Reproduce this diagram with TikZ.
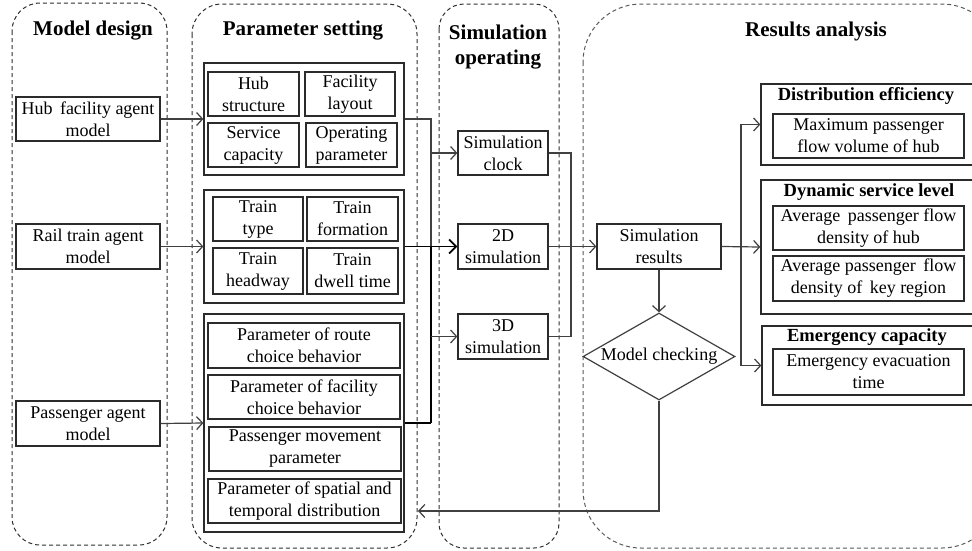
\documentclass[tikz,border=0pt]{standalone}
\usepackage{fontspec}
\setmainfont{Liberation Serif}
\usetikzlibrary{arrows.meta,shapes.geometric}
\definecolor{ln}{HTML}{404040}
\definecolor{bx}{HTML}{2B2B2B}
\definecolor{lanec}{HTML}{303030}
\definecolor{lanelt}{HTML}{5A5A5A}
\begin{document}
\begin{tikzpicture}[x=1pt,y=-1pt,
  txt/.style={font=\fontsize{18}{22}\selectfont, align=center, inner sep=0pt},
  box/.style={txt, draw=bx, line width=1.3pt},
  grp/.style={draw=bx, line width=1.3pt, inner sep=0pt},
  ttl/.style={font=\fontsize{21}{25}\selectfont\bfseries, align=center, inner sep=0pt},
  sttl/.style={font=\fontsize{18.5}{22}\selectfont\bfseries, inner sep=0pt},
  lanebox/.style={draw=lanec, dash pattern=on 4pt off 3pt, line width=1pt},
  conn/.style={draw=ln, line width=1.2pt},
  arr/.style={conn, -{Straight Barb[length=6pt,width=13pt,line width=1.2pt]}},
  thk/.style={draw=black, line width=2pt},
  tarr/.style={draw=black, line width=1.8pt, -{Straight Barb[length=7pt,width=14pt,line width=1.8pt]}}
]
\clip (0,0) rectangle (972,550);
\fill[white] (0,0) rectangle (972,550);

% lanes
\draw[lanebox, rounded corners=28pt] (12,3) rectangle (167,545);
\draw[lanebox, rounded corners=30pt] (192,4) rectangle (417,548);
\draw[lanebox, rounded corners=25pt] (439,4) rectangle (559,548);
\draw[lanebox, draw=lanelt, rounded corners=58pt] (583,4) rectangle (1000,548);

% titles
\node[ttl] (t1) at (93,31) {Model design};
\node[ttl] (t2) at (303,31) {Parameter setting};
\node[ttl] (t3) at (498,47) {Simulation\\operating};
\node[ttl] (t4) at (816,31) {Results analysis};

% model design
\node[box, minimum width=144pt, minimum height=44pt] (hub) at (88,119) {Hub\, facility agent\\model};
\node[box, minimum width=144pt, minimum height=45pt] (rail) at (88,246.5) {Rail train agent\\model};
\node[box, minimum width=144pt, minimum height=45pt] (pass) at (88,423.5) {Passenger agent\\model};

% parameter groups
\node[grp, minimum width=200pt, minimum height=112pt] (g1) at (304,119) {};
\node[box, minimum width=91pt, minimum height=44pt] (hubs) at (253.5,94) {Hub\\structure};
\node[box, minimum width=90pt, minimum height=44pt] (facl) at (350,94) {Facility\\layout};
\node[box, minimum width=91pt, minimum height=44pt] (serv) at (253.5,145) {Service\\capacity};
\node[box, minimum width=91pt, minimum height=44pt] (oper) at (351.5,145) {Operating\\parameter};

\node[grp, minimum width=200pt, minimum height=113pt] (g2) at (304,246.5) {};
\node[box, minimum width=90pt, minimum height=44pt] (ttype) at (258,219) {Train\\type};
\node[box, minimum width=91pt, minimum height=44pt] (tform) at (352.5,219) {Train\\formation};
\node[box, minimum width=90pt, minimum height=46pt] (thead) at (258,271) {Train\\headway};
\node[box, minimum width=91pt, minimum height=46pt] (tdwell) at (352.5,271) {Train\\dwell time};

\node[grp, minimum width=200pt, minimum height=218pt] (g3) at (304,423) {};
\node[box, minimum width=192pt, minimum height=45pt] (route) at (304,345.5) {Parameter of route\\choice behavior};
\node[box, minimum width=192pt, minimum height=44pt] (facch) at (304,397) {Parameter of facility\\choice behavior};
\node[box, minimum width=192pt, minimum height=44pt] (move) at (305,449) {Passenger movement\\parameter};
\node[box, minimum width=193pt, minimum height=44pt] (spat) at (304.5,501) {Parameter of spatial and\\temporal distribution};

% simulation
\node[box, minimum width=90pt, minimum height=44pt] (clock) at (503,153) {Simulation\\clock};
\node[box, minimum width=90pt, minimum height=45pt] (sim2d) at (503,246.5) {2D\\simulation};
\node[box, minimum width=90pt, minimum height=45pt] (sim3d) at (503,336.5) {3D\\simulation};

% results
\node[box, minimum width=124pt, minimum height=45pt] (simres) at (659,246.5) {Simulation\\results};
\node[txt, draw=ln, line width=1.2pt, diamond, aspect=1.75, minimum width=152pt, minimum height=87pt] (chk) at (659,356.5) {Model checking};

\node[grp, minimum width=239pt, minimum height=81pt] (dist) at (880.5,124.5) {};
\node[sttl] (distt) at (866,96) {Distribution efficiency};
\node[box, minimum width=191pt, minimum height=44pt] (maxp) at (868.5,136) {Maximum passenger\\flow volume of hub};

\node[grp, minimum width=239pt, minimum height=134pt] (dyn) at (880.5,247) {};
\node[sttl] (dynt) at (869,192) {Dynamic service level};
\node[box, minimum width=191pt, minimum height=44pt] (avg1) at (868.5,228) {Average\, passenger flow\\density of hub};
\node[box, minimum width=191pt, minimum height=45pt] (avg2) at (868.5,278.5) {Average passenger\, flow\\density of\, key region};

\node[grp, minimum width=238pt, minimum height=79pt] (emer) at (881,365.5) {};
\node[sttl] (emert) at (867,337) {Emergency capacity};
\node[box, minimum width=191pt, minimum height=46pt] (evac) at (868.5,372) {Emergency evacuation\\time};

% coordinates
\coordinate (busT) at (431,119);
\coordinate (busB) at (431,423);
\coordinate (rb) at (571,246.5);
\coordinate (rb2) at (741,246.5);
\coordinate (fb) at (418,511);

% connectors model -> parameters
\draw[arr] (hub.east) -- (g1.west);
\draw[arr] (rail.east) -- (g2.west);
\draw[arr] (pass.east) -- (g3.west);

% parameters -> simulation
\draw[conn] (g1.east) -- (busT) -- (busT |- sim2d.west);
\draw[thk] (busT |- sim2d.west) -- (busB);
\draw[thk] (g3.east) -- (busB);
\draw[arr] (busT |- clock.west) -- (clock.west);
\draw[arr] (busT |- sim3d.west) -- (sim3d.west);
\draw[tarr] (g2.east) -- (sim2d.west);

% simulation -> results
\draw[conn] (clock.east) -| (rb) |- (sim3d.east);
\draw[arr] (sim2d.east) -- (simres.west);
\draw[arr] (simres.south) -- (chk.north);
\draw[arr] (chk.south) |- (fb);

\draw[arr] (simres.east) -- (dyn.west);
\draw[arr] (rb2) |- (dist.west);
\draw[arr] (rb2) |- (emer.west);
\end{tikzpicture}
\end{document}
